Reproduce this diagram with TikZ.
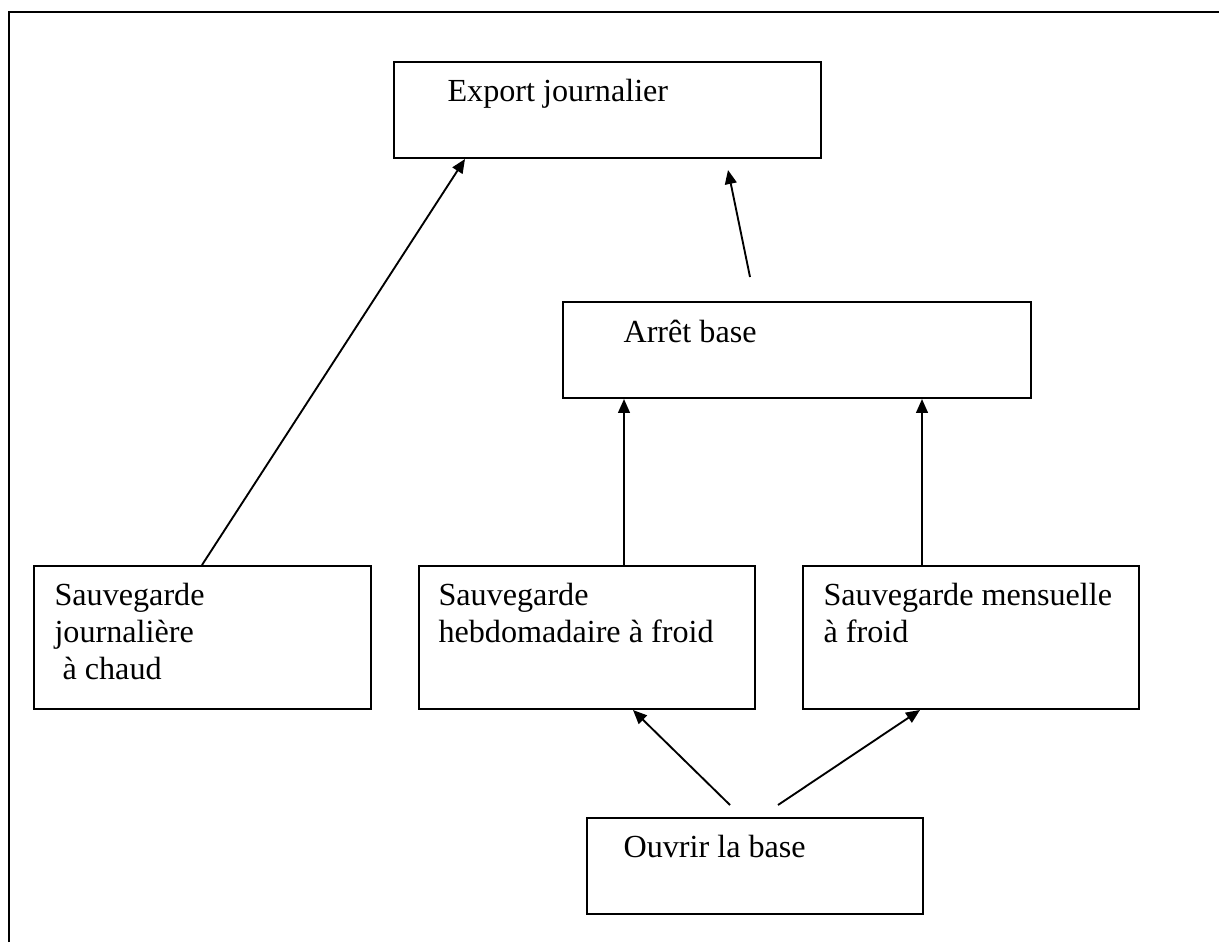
\documentclass[tikz,border=0pt]{standalone}
\usepackage{fontspec}
\setmainfont{Liberation Serif}
\usetikzlibrary{arrows.meta,calc}
\begin{document}
\begin{tikzpicture}[x=0.3731pt,y=-0.3731pt,
  box/.style={draw,line width=0.75pt,rectangle,inner sep=0pt,anchor=north west},
  lbl/.style={inner sep=0pt,anchor=base west,align=left,font=\fontsize{12}{13.8}\selectfont},
  conn/.style={line width=0.7pt,-{Triangle[length=5.2pt,width=4.4pt]}}]
\useasboundingbox (0,0) rectangle (1219,942);
\draw[line width=1.1pt] (9,942) -- (9,12) -- (1219,12);
% boxes
\node[box,minimum width={427*0.3731pt},minimum height={96*0.3731pt}] (exp) at (393,61) {};
\node[box,minimum width={468*0.3731pt},minimum height={96*0.3731pt}] (arr) at (562,301) {};
\node[box,minimum width={337*0.3731pt},minimum height={143*0.3731pt}] (jour) at (33,565) {};
\node[box,minimum width={336*0.3731pt},minimum height={143*0.3731pt}] (heb) at (418,565) {};
\node[box,minimum width={336*0.3731pt},minimum height={143*0.3731pt}] (mens) at (802,565) {};
\node[box,minimum width={336*0.3731pt},minimum height={96*0.3731pt}] (ouv) at (586,817) {};
% texts (base anchor = baseline of last line)
\node[lbl] (expt) at (447,101) {Export journalier};
\node[lbl] (arrt) at (623,342) {Arrêt base};
\node[lbl] (jourt) at (54,679) {Sauvegarde\\journalière\\\hspace*{3pt}à chaud};
\node[lbl] (hebt) at (438,642) {Sauvegarde\\hebdomadaire à froid};
\node[lbl] (menst) at (823,642) {Sauvegarde mensuelle\\à froid};
\node[lbl] (ouvt) at (623,857) {Ouvrir la base};
% connectors
\draw[conn] ($(jour.north west)+(169,0)$) -- ($(exp.south west)+(72,0)$);
\draw[conn] ($(arr.north west)+(188,-24)$) -- ($(exp.south west)+(335,11)$);
\draw[conn] ($(heb.north west)+(206,0)$) -- ($(arr.south west)+(62,0)$);
\draw[conn] ($(mens.north west)+(120,0)$) -- ($(arr.south west)+(360,0)$);
\draw[conn] ($(ouv.north west)+(144,-12)$) -- ($(heb.south west)+(215,0)$);
\draw[conn] ($(ouv.north west)+(192,-12)$) -- ($(mens.south west)+(118,0)$);
\end{tikzpicture}
\end{document}
